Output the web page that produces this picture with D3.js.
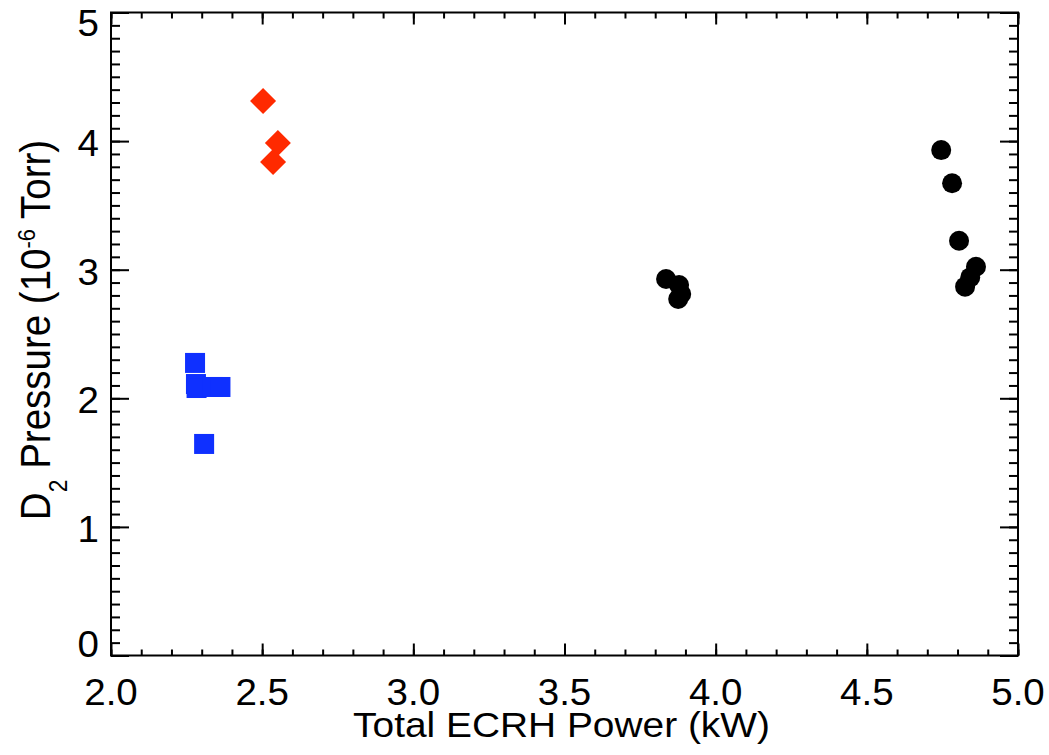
<!DOCTYPE html>
<html>
<head>
<meta charset="utf-8">
<script src="https://cdn.jsdelivr.net/npm/d3@7"></script>
<style>
  body { margin: 0; background: #fff; }
  text { font-family: "Liberation Sans", Arial, Helvetica, sans-serif; fill: #000; }
</style>
</head>
<body>
<svg id="chart" width="1049" height="755"></svg>
<script>
// Low-power group (squares)
const squaresX = [2.278, 2.281, 2.283, 2.337, 2.362, 2.308];
const squaresY = [2.275, 2.111, 2.080, 2.088, 2.088, 1.645];
// Intermediate group (diamonds)
const diamondsX = [2.503, 2.552, 2.536];
const diamondsY = [4.312, 3.985, 3.837];
// High-power groups (circles)
const circlesX = [3.836, 3.879, 3.886, 3.876, 4.746, 4.782, 4.805, 4.861, 4.842, 4.825];
const circlesY = [2.928, 2.881, 2.811, 2.772, 3.930, 3.672, 3.225, 3.023, 2.940, 2.868];

const xTicks = [2.0, 2.5, 3.0, 3.5, 4.0, 4.5, 5.0];
const xTickLabels = ["2.0", "2.5", "3.0", "3.5", "4.0", "4.5", "5.0"];
const yTicks = [0, 1, 2, 3, 4, 5];
const yTickLabels = ["0", "1", "2", "3", "4", "5"];

const W = 1049, H = 755;
const m = { left: 111, right: W - 1018, top: 12.5, bottom: H - 655.5 };
const pw = W - m.left - m.right, ph = H - m.top - m.bottom;

const svg = d3.select("#chart");
const g = svg.append("g").attr("transform", `translate(${m.left},${m.top})`);

const x = d3.scaleLinear().domain([2, 5]).range([0, pw]);
const y = d3.scaleLinear().domain([0, 5]).range([ph, 0]);

const stretch = 1.07;
const tickFont = 36;

// Minor ticks every 0.1
const xMinor = d3.range(2, 5.0001, 0.1).map(v => +v.toFixed(2));
const yMinor = d3.range(0, 5.0001, 0.1).map(v => +v.toFixed(2));

function axisGroup(axis, tr) {
  const a = g.append("g").attr("transform", tr).call(axis);
  a.selectAll("text").remove();
  a.select(".domain").remove();
  a.selectAll("line").attr("stroke", "#000").attr("stroke-width", 2);
  return a;
}

const xMaj = 12, xMin = 6, yMaj = 18, yMin = 9;
// bottom & top (inward ticks)
axisGroup(d3.axisBottom(x).tickValues(xMinor).tickSize(-xMin), `translate(0,${ph})`);
axisGroup(d3.axisBottom(x).tickValues(xTicks).tickSize(-xMaj), `translate(0,${ph})`);
axisGroup(d3.axisTop(x).tickValues(xMinor).tickSize(-xMin), `translate(0,0)`);
axisGroup(d3.axisTop(x).tickValues(xTicks).tickSize(-xMaj), `translate(0,0)`);
// left & right (inward ticks)
axisGroup(d3.axisLeft(y).tickValues(yMinor).tickSize(-yMin), `translate(0,0)`);
axisGroup(d3.axisLeft(y).tickValues(yTicks).tickSize(-yMaj), `translate(0,0)`);
axisGroup(d3.axisRight(y).tickValues(yMinor).tickSize(-yMin), `translate(${pw},0)`);
axisGroup(d3.axisRight(y).tickValues(yTicks).tickSize(-yMaj), `translate(${pw},0)`);

// Frame
g.append("rect").attr("x", 0).attr("y", 0).attr("width", pw).attr("height", ph)
  .attr("fill", "none").attr("stroke", "#000").attr("stroke-width", 2);

// Tick labels
g.selectAll(".xl").data(xTicks).join("text")
  .attr("class", "xl")
  .attr("transform", (d) => `translate(${x(d)},${ph + 49}) scale(${stretch},1)`)
  .attr("text-anchor", "middle")
  .attr("font-size", tickFont)
  .text((d, i) => xTickLabels[i]);

// End labels are kept inside the axis span; inner ones sit just below the tick
const yLabelShift = (d) => d === 5 ? 10 : d === 0 ? -12 : 2;
g.selectAll(".yl").data(yTicks).join("text")
  .attr("class", "yl")
  .attr("transform", (d) => `translate(-12,${y(d) + yLabelShift(d) + 13}) scale(${stretch},1)`)
  .attr("text-anchor", "end")
  .attr("font-size", tickFont)
  .text((d, i) => yTickLabels[i]);

// Axis titles
svg.append("text")
  .attr("transform", `translate(${m.left + pw / 2 - 3},737) scale(1.08,1)`)
  .attr("text-anchor", "middle")
  .attr("font-size", 36)
  .text("Total ECRH Power (kW)");

const yt = svg.append("text")
  .attr("transform", `translate(50,330) scale(1.12,1) rotate(-90)`)
  .attr("text-anchor", "middle")
  .attr("font-size", 38.5);
yt.append("tspan").text("D");
yt.append("tspan").attr("font-size", 23).attr("dy", 15).text("2");
yt.append("tspan").attr("dy", -15).text(" Pressure (10");
yt.append("tspan").attr("font-size", 22).attr("dy", -13.5).text("-6");
yt.append("tspan").attr("dy", 13.5).text(" Torr)");

// Data marks
const blue = "#0f30ff", red = "#ff2a00";
const sq = 20;
g.selectAll(".sq").data(squaresX).join("rect")
  .attr("x", (d) => x(d) - sq / 2)
  .attr("y", (d, i) => y(squaresY[i]) - sq / 2)
  .attr("width", sq).attr("height", sq)
  .attr("fill", blue);

const dh = 13;
g.selectAll(".dm").data(diamondsX).join("path")
  .attr("d", (d, i) => {
    const cx = x(d), cy = y(diamondsY[i]);
    return `M${cx},${cy - dh}L${cx + dh},${cy}L${cx},${cy + dh}L${cx - dh},${cy}Z`;
  })
  .attr("fill", red);

g.selectAll(".ci").data(circlesX).join("circle")
  .attr("cx", (d) => x(d))
  .attr("cy", (d, i) => y(circlesY[i]))
  .attr("r", 10)
  .attr("fill", "#000");
</script>
</body>
</html>
